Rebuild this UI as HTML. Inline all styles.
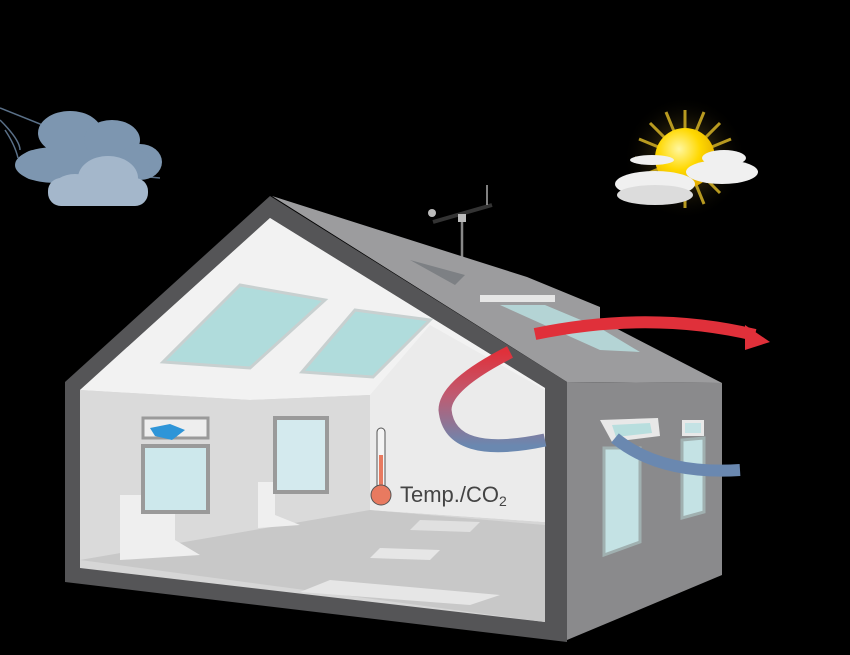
<!DOCTYPE html>
<html><head><meta charset="utf-8"><style>
html,body{margin:0;padding:0;background:#000;}
svg{display:block}
</style></head><body>
<svg width="850" height="655" viewBox="0 0 850 655" xmlns="http://www.w3.org/2000/svg">
<defs>
<linearGradient id="flow" x1="0" y1="0" x2="0" y2="1">
<stop offset="0" stop-color="#e0303a"/><stop offset="0.45" stop-color="#c05a70"/><stop offset="1" stop-color="#6a88b0"/>
</linearGradient>
<radialGradient id="sun" cx="0.4" cy="0.35" r="0.7">
<stop offset="0" stop-color="#fff7a0"/><stop offset="0.5" stop-color="#ffd800"/><stop offset="1" stop-color="#e0a800"/>
</radialGradient>
<radialGradient id="glow" cx="0.5" cy="0.5" r="0.5">
<stop offset="0" stop-color="#806820"/><stop offset="1" stop-color="#000" stop-opacity="0"/>
</radialGradient>
</defs>
<rect width="850" height="655" fill="#000"/>
<g stroke="#5a7088" stroke-width="1.5" fill="none">
<path d="M0 108 Q30 120 50 128"/><path d="M0 120 Q20 140 20 150"/><path d="M5 130 Q15 145 18 158"/>
<path d="M90 160 Q120 175 160 178"/>
</g>
<g fill="#7d96b0">
<ellipse cx="70" cy="133" rx="32" ry="22"/>
<ellipse cx="112" cy="140" rx="28" ry="20"/>
<ellipse cx="140" cy="162" rx="22" ry="18"/>
<ellipse cx="55" cy="165" rx="40" ry="18"/>
<rect x="20" y="150" width="130" height="30" rx="14"/>
</g>
<g fill="#a4b7cb">
<ellipse cx="108" cy="178" rx="30" ry="22"/>
<ellipse cx="75" cy="188" rx="22" ry="14"/>
<rect x="48" y="178" width="100" height="28" rx="13"/>
</g>
<circle cx="685" cy="158" r="62" fill="url(#glow)"/>
<g stroke="#b89a20" stroke-width="3">
<path d="M685 110V208M635 158H735M650 123L720 193M720 123L650 193M666 112L704 204M704 112L666 204M639 139L731 177M731 139L639 177"/>
</g>
<circle cx="685" cy="158" r="30" fill="url(#sun)"/>
<g fill="#f0f0f0">
<ellipse cx="655" cy="184" rx="40" ry="13"/><ellipse cx="655" cy="195" rx="38" ry="10" fill="#dcdcdc"/>
<ellipse cx="722" cy="172" rx="36" ry="12"/><ellipse cx="724" cy="158" rx="22" ry="8"/>
<ellipse cx="652" cy="160" rx="22" ry="5"/>
</g>
<line x1="462" y1="218" x2="462" y2="258" stroke="#888" stroke-width="2.5"/>
<line x1="433" y1="222" x2="492" y2="205" stroke="#333" stroke-width="4"/>
<rect x="458" y="214" width="8" height="8" fill="#bbb"/>
<circle cx="432" cy="213" r="4" fill="#bbb"/>
<path d="M487 205V185" stroke="#aaa" stroke-width="1.5"/>
<polygon points="272,196 527,277 600,307 600,320 722,383 567,382" fill="#9c9c9e"/>
<polygon points="410,260 465,275 455,285" fill="#7d8084"/>
<polygon points="500,305 545,305 600,328 640,352 600,350" fill="#b8dede" opacity="0.85"/>
<rect x="480" y="295" width="75" height="7" fill="#e6e6e6"/>
<polygon points="567,382 722,383 722,575 567,640" fill="#8a8a8c"/>
<polygon points="604,448 640,448 640,542 604,555" fill="#c4e2e4" stroke="#a0b0b0" stroke-width="3"/>
<polygon points="682,440 704,438 704,512 682,518" fill="#c4e2e4" stroke="#a0b0b0" stroke-width="3"/>
<polygon points="600,420 658,418 660,436 612,442" fill="#e8e8e8"/>
<polygon points="612,425 650,423 652,433 616,437" fill="#b8dede"/>
<rect x="682" y="420" width="22" height="16" fill="#e8e8e8"/>
<rect x="685" y="423" width="16" height="10" fill="#c4e2e4"/>
<polygon points="270,196 567,382 567,642 65,582 65,382" fill="#555557"/>
<!-- interior -->
<polygon points="270,218 545,388 545,622 80,568 80,390" fill="#d6d6d6"/>
<polygon points="270,218 545,388 545,522 370,510 370,395 250,400 80,390" fill="#f2f2f2"/>
<polygon points="370,395 430,325 545,390 545,522 370,510" fill="#ebebeb"/>
<polygon points="80,390 250,400 370,395 370,510 80,560" fill="#dadada"/>
<polygon points="80,560 370,510 545,525 545,622" fill="#c8c8c8"/>
<polygon points="330,580 500,595 470,605 300,592" fill="#e6e6e6"/>
<polygon points="380,548 440,550 430,560 370,558" fill="#e6e6e6"/>
<polygon points="420,520 480,522 470,532 410,530" fill="#e0e0e0"/>
<polygon points="120,495 175,495 175,540 200,555 120,560" fill="#efefef"/>
<polygon points="258,482 275,482 275,515 300,525 258,528" fill="#efefef"/>
<polygon points="240,285 325,300 250,368 163,362" fill="#b0dcdc" stroke="#c8d0d0" stroke-width="3"/>
<polygon points="355,310 430,320 373,377 302,372" fill="#b0dcdc" stroke="#c8d0d0" stroke-width="3"/>
<rect x="143" y="418" width="65" height="20" fill="#eeeeee" stroke="#9a9a9a" stroke-width="3"/>
<path d="M150 428 L170 424 L185 430 L172 440 L155 436Z" fill="#2e95d8"/>
<rect x="143" y="446" width="65" height="66" fill="#cde8ec" stroke="#9a9a9a" stroke-width="4"/>
<rect x="275" y="418" width="52" height="74" fill="#d4eaee" stroke="#9a9a9a" stroke-width="4"/>
<rect x="377" y="428" width="8" height="62" rx="4" fill="#f4f4f4" stroke="#555" stroke-width="1"/>
<rect x="379" y="455" width="4" height="37" fill="#e87a60"/>
<circle cx="381" cy="495" r="10" fill="#e87a60" stroke="#555" stroke-width="1"/>
<text x="400" y="502" font-family="'Liberation Sans',sans-serif" font-size="22" fill="#444">Temp./CO<tspan font-size="14" dy="4">2</tspan></text>
<path d="M510 352 Q445 385 445 410 Q450 460 545 440" stroke="url(#flow)" stroke-width="13" fill="none"/>
<path d="M535 334 Q650 310 755 335" stroke="#e0303a" stroke-width="12" fill="none"/>
<polygon points="745,325 770,342 745,350" fill="#e0303a"/>
<path d="M615 438 Q660 475 740 470" stroke="#6a88b0" stroke-width="12" fill="none"/>
</svg>
</body></html>
